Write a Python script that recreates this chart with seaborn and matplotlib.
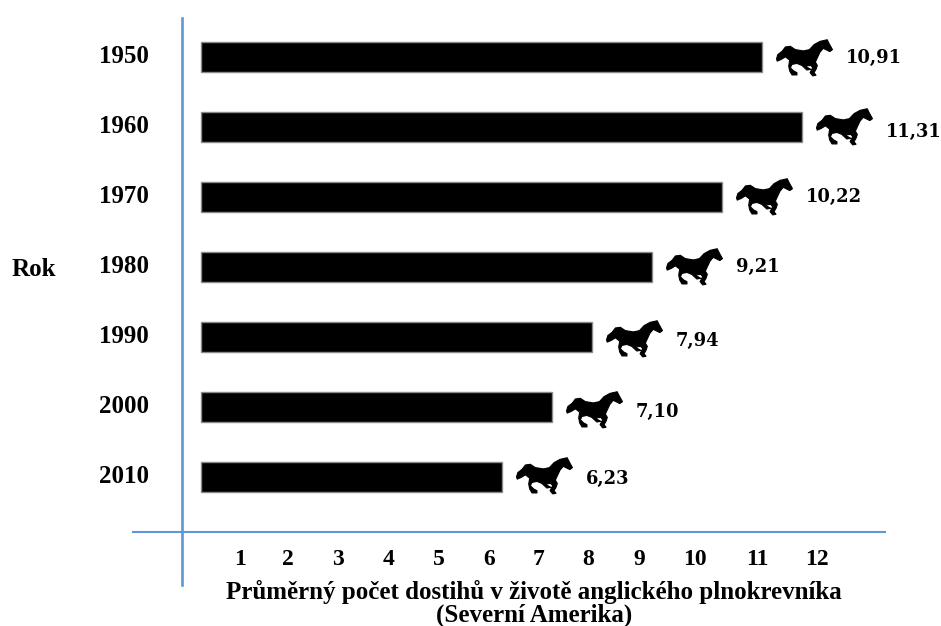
import numpy as np
import matplotlib
matplotlib.use("Agg")
import matplotlib.pyplot as plt
from matplotlib.path import Path
from matplotlib.markers import MarkerStyle
import seaborn as sns

# --- data ---
years = ["1950", "1960", "1970", "1980", "1990", "2000", "2010"]
printed_values = [10.91, 11.31, 10.22, 9.21, 7.94, 7.10, 6.23]
bar_reach = [11.44, 12.24, 10.64, 9.24, 8.04, 7.24, 6.24]      # read against the drawn scale
tick_labels = ["1", "2", "3", "4", "5", "6", "7", "8", "9", "10", "11", "12"]
tick_at = [1.0, 1.96, 2.96, 3.98, 4.98, 5.98, 6.98, 7.96, 8.98, 10.1, 11.34, 12.54]
x_title = "Průměrný počet dostihů v životě anglického plnokrevníka\n(Severní Amerika)"
y_title = "Rok"

# --- layout ---
BAR_START = 0.22
HORSE_GAP = 0.83
LABEL_GAP = 1.68
label_nudge = [1, 5, 0, 0, 4, 5, 2]
horse_nudge = [0, -1, -1, -1, 1, 2, -2]
BLUE = "#5f97d6"
SERIF = "Liberation Serif"

# horse silhouette outline
horse_outline = np.array([
    (108, 98), (112, 85), (125, 75), (135, 62), (150, 60), (165, 70), (190, 74), (208, 70),
    (222, 55), (240, 45), (262, 40), (268, 52), (278, 70), (270, 76), (258, 70), (250, 66),
    (240, 78), (232, 95), (226, 108), (232, 118), (228, 130), (222, 140), (228, 148), (218, 150),
    (210, 140), (218, 125), (212, 118), (195, 120), (205, 126), (212, 130), (200, 132), (185, 118),
    (170, 112), (155, 115), (150, 125), (160, 135), (170, 140), (170, 147), (155, 147), (148, 135),
    (145, 120), (148, 102), (135, 92), (122, 100), (110, 105), (108, 98),
], dtype=float)
horse_outline -= [193, 94]
horse_outline[:, 1] *= -1
horse_marker = MarkerStyle(Path(horse_outline, closed=True))

sns.set_style("white")
plt.rcParams["font.family"] = [SERIF, "DejaVu Serif"]
fig = plt.figure(figsize=(9.41, 6.26), dpi=100)
ax = fig.add_axes([0, 0, 1, 1])

sns.barplot(x=bar_reach, y=years, order=years, orient="h", color="black", saturation=1,
            width=0.43, edgecolor="#8a8a8a", linewidth=1.0, ax=ax)
for patch, reach in zip(ax.patches, bar_reach):
    patch.set_x(BAR_START)
    patch.set_width(reach - BAR_START)

ax.set_xlim(-3.8, 15.02)
ax.set_ylim(8.129, -0.814)

rows = np.arange(len(years))
ax.scatter(np.array(bar_reach) + HORSE_GAP, rows + np.array(horse_nudge) / 70,
           marker=horse_marker, s=1620, c="black", edgecolors="black", linewidths=0.8, zorder=3)

for row, (reach, value, nudge) in enumerate(zip(bar_reach, printed_values, label_nudge)):
    ax.text(reach + LABEL_GAP, row + nudge / 70, f"{value:.2f}".replace(".", ","),
            family="DejaVu Serif", fontweight="bold", fontsize=12.9, ha="left", va="center", color="black")

for side in ("top", "right"):
    ax.spines[side].set_visible(False)
ax.spines["bottom"].set_position(("data", 6.786))
ax.spines["bottom"].set_bounds(-1.14, 13.9)
ax.spines["left"].set_position(("data", -0.16))
ax.spines["left"].set_bounds(-0.557, 7.543)
for side, lw in (("bottom", 1.5), ("left", 1.9)):
    ax.spines[side].set_color(BLUE)
    ax.spines[side].set_linewidth(lw)

ax.set_xticks(tick_at, tick_labels)
ax.tick_params(axis="x", length=0, pad=12.5, labelsize=17)
ax.tick_params(axis="y", length=0, pad=24, labelsize=18)
for t in ax.get_xticklabels():
    t.set_fontweight("bold")
    t.set_color("black")
for t in ax.get_yticklabels():
    t.set_fontweight("bold")
    t.set_color("black")
    t.set_va("center")

ax.set_xlabel(x_title, fontsize=18, fontweight="bold", color="black", linespacing=0.98, va="top", ha="center")
ax.xaxis.set_label_coords(6.88, 7.47, transform=ax.transData)
ax.set_ylabel(y_title, fontsize=18, fontweight="bold", color="black", rotation=0, ha="center", va="center")
ax.yaxis.set_label_coords(-3.13, 3.03, transform=ax.transData)

fig.savefig("out.png", dpi=100, facecolor="white")
